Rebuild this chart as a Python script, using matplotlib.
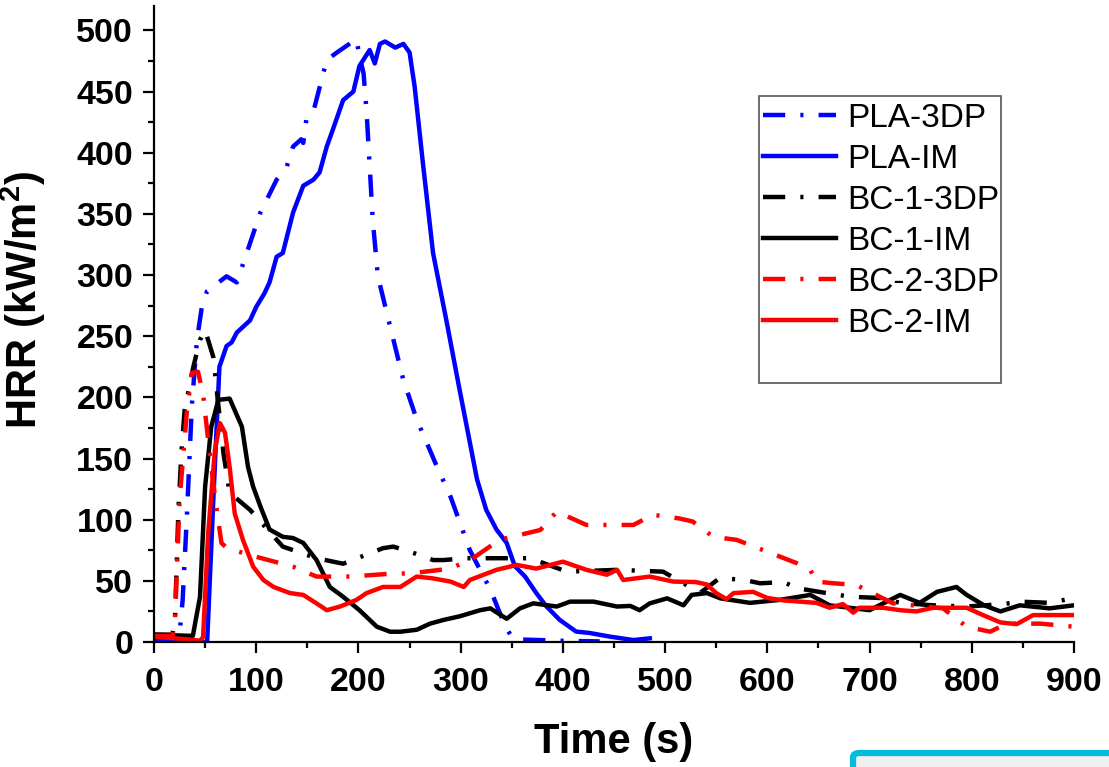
import matplotlib
matplotlib.use("Agg")
import matplotlib.pyplot as plt
from matplotlib.patches import FancyBboxPatch, Rectangle
from matplotlib.ticker import MultipleLocator

plt.rcParams['font.family'] = ['Liberation Sans', 'DejaVu Sans']
plt.rcParams['mathtext.fontset'] = 'custom'
plt.rcParams['mathtext.rm'] = 'Liberation Sans'
plt.rcParams['mathtext.bf'] = 'Liberation Sans:bold'

# ---------------- data ----------------
pla_3dp_t = [0, 20, 25, 28, 32, 37, 42, 47, 52, 60, 71, 81, 104, 120, 130, 136, 144, 146,
             149, 156, 169, 179, 198, 201, 205, 208, 211, 214, 219, 231, 244, 257, 277,
             290, 309, 329, 343, 350, 360, 400, 436]
pla_3dp = [1, 1, 7, 34, 100, 193, 247, 275, 287, 292, 299, 294, 351, 378, 389, 405, 411, 408,
           427, 434, 476, 482, 493, 479, 465, 433, 389, 345, 299, 258, 214, 182, 143,
           119, 75, 43, 14, 4, 2, 1, 0.5]

pla_im_t = [0, 50, 52, 58, 64, 71, 76, 81, 94, 100, 108, 113, 120, 126, 136, 146, 156, 162,
            169, 175, 185, 195, 201, 211, 216, 221, 226, 236, 244, 250, 255, 263, 273, 286,
            299, 316, 325, 335, 345, 353, 363, 374, 384, 397, 413, 426, 446, 469, 485]
pla_im = [0, 0, 0, 116, 225, 242, 245, 253, 263, 274, 285, 294, 315, 318, 351, 373, 378, 384,
          405, 419, 443, 450, 471, 484, 473, 489, 491, 486, 489, 482, 454, 392, 318, 263,
          206, 133, 108, 92, 81, 62, 53.5, 40, 29, 18, 8.5, 7.4, 4.4, 1.6, 3]

bc1_3dp_t = [0, 18, 20.5, 24, 27, 30, 38.5, 45, 50, 58, 68, 74, 94, 126, 159, 185, 224, 234,
             250, 273, 283, 306, 368, 404, 453, 498, 518, 534, 553, 576, 593, 616, 629, 658,
             681, 710, 730, 762, 795, 831, 847, 876, 900]
bc1_3dp = [6, 6, 18, 111, 157, 190, 225, 247, 255, 233, 154, 122, 108, 78, 68.5, 64, 76.7, 78,
           74, 67, 67, 68.5, 68.5, 57.5, 59, 57.5, 48, 40, 52, 51, 48, 49, 44, 40,
           37, 36, 32, 30, 29, 31, 33, 32, 36]

bc1_im_t = [0, 38, 45, 50, 56, 63, 74, 86, 92, 97, 104, 113, 126, 136, 146, 159, 172, 185,
            201, 218, 231, 241, 257, 270, 283, 299, 319, 329, 345, 358, 371, 394, 407, 430,
            453, 466, 475, 485, 502, 518, 526, 541, 554, 583, 612, 642, 661, 700, 730, 749,
            766, 785, 795, 812, 828, 847, 876, 900]
bc1_im = [6, 5, 37, 127, 176, 198, 199, 176, 143, 127, 111, 92, 86, 85, 81, 67, 45, 37,
          26, 12.5, 8.4, 8.4, 10, 15, 18, 21, 26, 27.5, 19, 27.5, 31.6, 29, 33, 33,
          29, 29.5, 26, 31.6, 35.7, 30, 38.5, 40, 35.7, 32, 34.4, 38.5, 30, 26, 38.5, 32,
          41, 45, 38.5, 30, 25, 30, 27.5, 30]

bc2_3dp_t = [0, 18, 20.5, 25, 32, 37, 43, 48, 53, 60, 66, 71, 94, 136, 159, 192, 234, 250,
             290, 312, 338, 378, 394, 423, 469, 488, 514, 527, 547, 570, 629, 642, 648, 665,
             687, 723, 772, 795, 818, 834, 867, 900]
bc2_3dp = [5, 5, 18, 116, 187, 220, 221, 203, 165, 116, 81, 77, 71, 61.6, 53.5, 53.5, 56, 56,
           60, 68.5, 83.5, 91.6, 106.6, 95.7, 95.7, 104, 101, 98.5, 86, 83.5, 64.4, 59, 49.4, 48,
           46.6, 31.6, 27.5, 12.5, 8.4, 15, 15, 12.5]

bc2_im_t = [0, 35, 45, 48, 53, 59.6, 64.5, 69.5, 74, 79, 87, 97, 107, 117, 133, 146, 159, 169,
            182, 198, 208, 224, 241, 257, 273, 290, 303, 309, 335, 355, 374, 400, 423, 443,
            453, 459, 485, 508, 530, 541, 550, 560, 567, 586, 600, 616, 632, 648, 661, 674,
            684, 690, 713, 730, 746, 762, 795, 811, 828, 844, 860, 876, 900]
bc2_im = [4.4, 2, 1, 4, 89, 157, 179, 171, 143, 105, 83.5, 61.6, 50.7, 45, 40, 38.5, 31.6, 26,
          29, 34.4, 40, 45, 45, 53.5, 52, 49.4, 45, 50.7, 59, 63, 60, 65.7, 59, 55,
          59, 50.7, 53.5, 49.4, 49, 47, 40, 35, 40, 41, 36, 34, 33, 32, 28, 31,
          24, 28, 28, 26, 25, 28, 28, 22, 16, 14.6, 22, 22, 22]

labels = ['PLA-3DP', 'PLA-IM', 'BC-1-3DP', 'BC-1-IM', 'BC-2-3DP', 'BC-2-IM']
colors = ['#0000ff', '#0000ff', '#000000', '#000000', '#ff0000', '#ff0000']
x_ticks = [0, 100, 200, 300, 400, 500, 600, 700, 800, 900]
y_ticks = [0, 50, 100, 150, 200, 250, 300, 350, 400, 450, 500]

series = [(pla_3dp_t, pla_3dp), (pla_im_t, pla_im), (bc1_3dp_t, bc1_3dp),
          (bc1_im_t, bc1_im), (bc2_3dp_t, bc2_3dp), (bc2_im_t, bc2_im)]

# ---------------- figure ----------------
W, H = 1109, 767
fig = plt.figure(figsize=(W / 100, H / 100), dpi=100)
ax = fig.add_axes([154 / W, 125 / H, 920 / W, (642 - 6) / H])

dashdot = (0, (5, 3.4, 0.7, 3.4))
for i, ((t, v), lab, c) in enumerate(zip(series, labels, colors)):
    ls = dashdot if i % 2 == 0 else '-'
    ax.plot(t, v, color=c, lw=3.2, ls=ls, label=lab, solid_joinstyle='round')

ax.set_xlim(0, 900)
ax.set_ylim(0, 520)
ax.set_xticks(x_ticks)
ax.set_yticks(y_ticks)
ax.xaxis.set_minor_locator(MultipleLocator(50))
ax.yaxis.set_minor_locator(MultipleLocator(25))

for s in ['top', 'right']:
    ax.spines[s].set_visible(False)
for s in ['left', 'bottom']:
    ax.spines[s].set_linewidth(1.6)

ax.tick_params(which='major', direction='out', length=8, width=1.6, labelsize=24.5, pad=7)
ax.tick_params(axis='x', which='major', pad=10)
ax.tick_params(which='minor', direction='out', length=4.5, width=1.6)
for lbl in ax.get_xticklabels() + ax.get_yticklabels():
    lbl.set_fontweight('bold')

ax.set_xlabel('Time (s)', fontsize=30, fontweight='bold', labelpad=17)
fig.text(23 / W, 1 - 300 / H, r'HRR (kW/m$\mathbf{^2}$)', rotation=90, ha='center',
         va='center', fontsize=30, fontweight='bold')

# legend: frame drawn separately (taller than the entries, as in the reference)
frame = Rectangle((759 / W, 1 - 383 / H), (1001 - 759) / W, (383 - 96) / H,
                  transform=fig.transFigure, facecolor='white', edgecolor='#555555',
                  linewidth=1.2, zorder=4)
fig.add_artist(frame)
leg = ax.legend(loc='upper left', bbox_to_anchor=(763 / W, 1 - 103 / H),
                bbox_transform=fig.transFigure,
                fontsize=24, frameon=False,
                handlelength=2.2, handletextpad=0.33, labelspacing=0.3,
                borderpad=0, borderaxespad=0)
leg.set_zorder(5)
for h in leg.get_lines():
    h.set_linewidth(3.2)
leg.remove()
fig.add_artist(leg)

# decorative cyan frame at lower right of the image
deco = FancyBboxPatch((853 / W, -0.05), 0.3, (H - 753) / H + 0.05,
                      boxstyle='round,pad=0,rounding_size=0.006',
                      transform=fig.transFigure, facecolor='#f0f0f0',
                      edgecolor='#00bce0', linewidth=4.5, clip_on=False)
fig.add_artist(deco)

fig.savefig('out.png', dpi=100)
